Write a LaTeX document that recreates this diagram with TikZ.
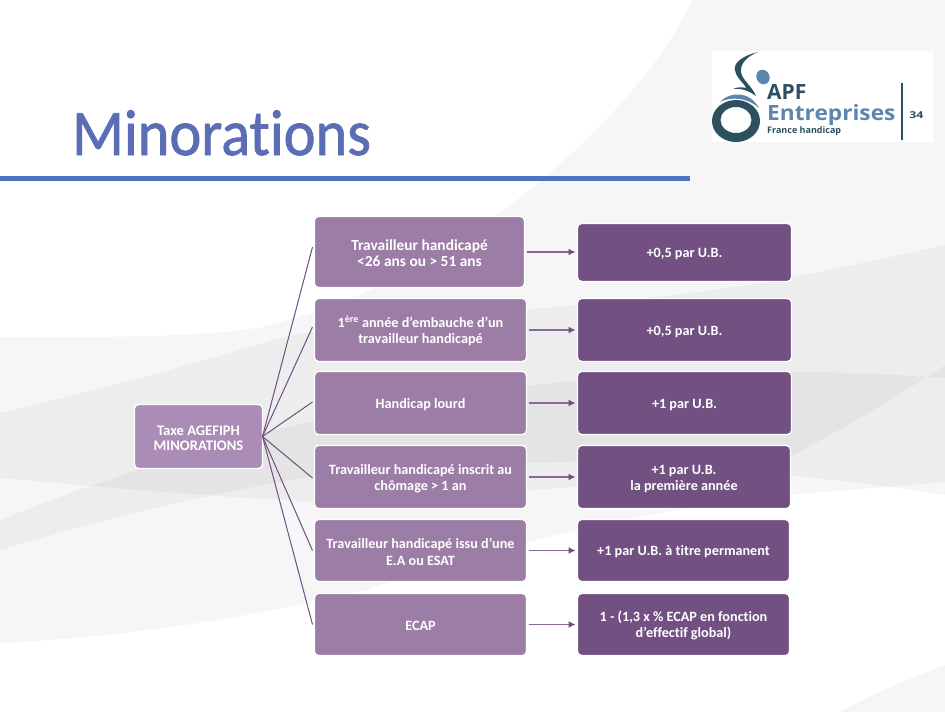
\documentclass[tikz,border=0pt]{standalone}
\usepackage{fontspec}
\setmainfont[Ligatures=NoCommon]{Carlito}
\newfontfamily\titlefont[Ligatures=NoCommon,BoldFont=Carlito,BoldFeatures={FakeBold=1.2}]{Carlito}
\newfontfamily\logofont{Open Sans}
\usetikzlibrary{arrows.meta}
\definecolor{midbox}{HTML}{9C7DA6}
\definecolor{rootbox}{HTML}{AB8CB6}
\definecolor{darkbox}{HTML}{725082}
\definecolor{linkc}{HTML}{6F4F80}
\definecolor{arrowc}{HTML}{87699A}
\definecolor{titlec}{HTML}{5A6DB5}
\definecolor{rulec}{HTML}{4F73BE}
\definecolor{logoD}{HTML}{2C5060}
\definecolor{logoL}{HTML}{5C86AD}
\tikzset{
  x=1pt,y=-1pt,
  bgshape/.style={fill=black,opacity=0.036,draw=none},
  box/.style={draw=white,line width=1.4pt,rounded corners=4pt,align=center,text=white,font=\fontsize{14.2}{16.2}\selectfont\bfseries,inner sep=0pt,outer sep=0pt,anchor=north west},
  midnode/.style={box,fill=midbox},
  rootnode/.style={box,fill=rootbox,font=\fontsize{14.6}{15.4}\selectfont\bfseries},
  darknode/.style={box,fill=darkbox},
  link/.style={draw=linkc,line width=1pt},
  arrowlink/.style={draw=arrowc,line width=1.3pt,-{Latex[length=7pt,width=7pt,color=linkc]}},
}
\newcommand{\boxat}[7]{\node[#1,minimum width=#5-#3+1,minimum height=#6-#4+1] (#2) at (#3-0.5,#4-0.5) {\rule{0pt}{13pt}#7};}
\begin{document}
\begin{tikzpicture}
\useasboundingbox (0,0) rectangle (945,712);
\fill[white] (0,0) rectangle (945,712);
% shape A: large light sweep
\path[bgshape] (0,337) .. controls (100,337) and (200,338) .. (263,327)
  .. controls (370,300) and (440,255) .. (500,213)
  .. controls (590,145) and (660,70) .. (692,0)
  -- (945,0) -- (945,482) .. controls (890,487) and (820,492) .. (790,495)
  .. controls (640,510) and (500,545) .. (367,590)
  .. controls (300,605) and (170,635) .. (0,643) -- cycle;
% shape D: band
\path[bgshape] (0,413) .. controls (90,392) and (180,368) .. (267,342)
  .. controls (300,330) and (420,318) .. (525,310)
  .. controls (600,302) and (700,295) .. (793,277)
  .. controls (850,266) and (900,255) .. (945,245)
  -- (945,495) .. controls (890,486) and (840,481) .. (790,475)
  .. controls (620,475) and (450,505) .. (320,502)
  .. controls (210,497) and (80,485) .. (0,478) -- cycle;
% shape C: inner sweep
\path[bgshape] (0,520) .. controls (100,480) and (220,440) .. (320,420)
  .. controls (450,390) and (650,368) .. (790,372)
  .. controls (850,372) and (900,375) .. (945,378)
  -- (945,365) .. controls (900,395) and (850,425) .. (790,457)
  .. controls (650,462) and (450,460) .. (320,475)
  .. controls (200,495) and (100,520) .. (0,550) -- cycle;
% corner bottom right
\path[bgshape] (840,712) .. controls (870,695) and (910,678) .. (945,665) -- (945,712) -- cycle;
% title
\node[font=\titlefont\fontsize{65}{66}\selectfont\bfseries,text=titlec,anchor=base west,inner sep=0pt,xscale=0.93] (title) at (72,155) {Minorations};
\fill[rulec] (0,176) rectangle (690,181);
% logo
\fill[white] (712,51) rectangle (933,142);
\fill[logoD] (758,52) .. controls (745,55) and (733,62) .. (735,70)
  .. controls (736,78) and (745,84) .. (746,88)
  .. controls (742,87) and (737,87) .. (733,89)
  .. controls (740,88) and (748,90) .. (756,96)
  .. controls (752,86) and (742,80) .. (741,72)
  .. controls (740,63) and (748,56) .. (758,52) -- cycle;
\fill[logoL,rotate around={25:(763,77)}] (763,77) ellipse (6.5 and 7.5);
\fill[logoD,even odd rule] (736,121) ellipse (24 and 21) (736,120) ellipse (15.5 and 13);
\fill[logoL] (720,102) .. controls (730,91) and (750,91) .. (759,108) .. controls (748,98) and (732,96) .. (720,102) -- cycle;
\node[font=\logofont\fontsize{21}{22}\selectfont\bfseries,text=logoD,anchor=base west,inner sep=0pt] (apf) at (767,99) {APF};
\node[font=\logofont\fontsize{21}{22}\selectfont\bfseries,text=logoL,anchor=base west,inner sep=0pt,xscale=1.08] (ent) at (767,120) {Entreprises};
\node[font=\logofont\fontsize{9}{10}\selectfont\bfseries,text=logoD,anchor=base west,inner sep=0pt] (fh) at (767,133) {France handicap};
\draw[logoD,line width=1.2pt] (902,83) -- (902,140);
\node[font=\logofont\fontsize{9.5}{10}\selectfont\bfseries,text=logoD,anchor=base west,inner sep=0pt,xscale=1.3] (num) at (909,118) {34};
% boxes
\boxat{rootnode}{root}{135}{405}{262}{468}{Taxe AGEFIPH\\MINORATIONS}
\boxat{midnode}{m1}{315}{217}{524}{287}{\fontsize{15.4}{15.4}\selectfont Travailleur handicapé\\\fontsize{15.4}{15.4}\selectfont <26 ans ou > 51 ans}
\boxat{midnode}{m2}{315}{299}{526}{361}{1\textsuperscript{ère} année d’embauche d’un\\travailleur handicapé}
\boxat{midnode}{m3}{315}{372}{526}{434}{Handicap lourd}
\boxat{midnode}{m4}{315}{446}{526}{508}{Travailleur handicapé inscrit au\\chômage > 1 an}
\boxat{midnode}{m5}{315}{520}{526}{581}{Travailleur handicapé issu d'une\\E.A ou ESAT}
\boxat{midnode}{m6}{315}{594}{526}{655}{ECAP}
\boxat{darknode}{d1}{578}{224}{791}{281}{+0,5 par U.B.}
\boxat{darknode}{d2}{578}{299}{791}{361}{+0,5 par U.B.}
\boxat{darknode}{d3}{578}{372}{791}{434}{+1 par U.B.}
\boxat{darknode}{d4}{578}{446}{790}{508}{+1 par U.B.\\la première année}
\boxat{darknode}{d5}{578}{520}{789}{581}{+1 par U.B. à titre permanent}
\boxat{darknode}{d6}{578}{594}{789}{655}{1 - (1,3 x \% ECAP en fonction\\d'effectif global)}
% connectors
\foreach \n/\s in {m1/5,m2/3,m3/1,m4/-1,m5/0,m6/0}{
  \draw[link] (root.east) -- ([xshift=-2pt,yshift=\s pt]\n.west);
}
\foreach \i in {1,...,6}{
  \draw[arrowlink] ([xshift=2pt]m\i.east) -- ([xshift=-2pt]m\i.east -| d\i.west);
}
\end{tikzpicture}
\end{document}
